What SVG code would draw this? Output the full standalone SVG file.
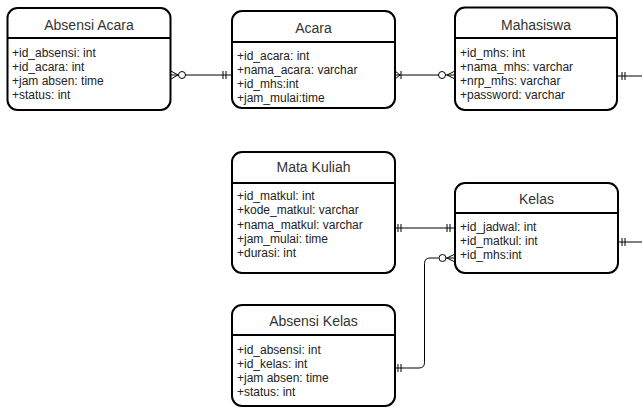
<svg xmlns="http://www.w3.org/2000/svg" width="642" height="409" viewBox="0 0 642 409">
<style>
.box{fill:#fff;stroke:#000;stroke-width:2}
.hdr{stroke:#000;stroke-width:2}
.title{font-family:"Liberation Sans",Arial,sans-serif;font-size:14px;fill:#333;text-anchor:middle}
.attr{font-family:"Liberation Sans",Arial,sans-serif;font-size:12px;fill:#222}
.ln{fill:none;stroke:#000;stroke-width:1}
.circ{fill:#fff;stroke:#000;stroke-width:1}
</style>
<rect width="642" height="409" fill="#fff"/>
<g id="connectors">
  <!-- Absensi Acara - Acara -->
  <path class="ln" d="M171 75 H232"/>
  <path class="ln" d="M171 71 L178 75 L171 79"/>
  <circle class="circ" cx="182" cy="75" r="3.5"/>
  <path class="ln" d="M223 71 V79 M226 71 V79"/>
  <!-- Acara - Mahasiswa -->
  <path class="ln" d="M395 75 H455"/>
  <path class="ln" d="M395 71 L400 75 L395 79 M401 71 V79"/>
  <circle class="circ" cx="442" cy="75" r="3.5"/>
  <path class="ln" d="M455 71 L447 75 L455 79"/>
  <!-- Mahasiswa right -->
  <path class="ln" d="M617 76 H642 M622 72 V80 M625 72 V80"/>
  <!-- Mata Kuliah - Kelas -->
  <path class="ln" d="M395 228 H455 M398 224 V232 M401 224 V232 M447 224 V232 M450 224 V232"/>
  <!-- Kelas right -->
  <path class="ln" d="M618 242 H642 M622 238 V246 M625 238 V246"/>
  <!-- Kelas - Absensi Kelas -->
  <path class="ln" d="M455 258 H446 M438.5 258 H430 Q424.5 258 424.5 263.5 V362.5 Q424.5 368 419 368 H395"/>
  <path class="ln" d="M455 254 L447 258 L455 262"/>
  <circle class="circ" cx="442.5" cy="258" r="3.5"/>
  <path class="ln" d="M398 364 V372 M401 364 V372"/>
</g>
<g id="absensi-acara">
  <rect class="box" x="7.5" y="8" width="163" height="102" rx="10"/>
  <line class="hdr" x1="7.5" y1="38" x2="170.5" y2="38"/>
  <text class="title" x="89" y="30">Absensi Acara</text>
  <text class="attr" x="12" y="57">+id_absensi: int</text>
  <text class="attr" x="12" y="71">+id_acara: int</text>
  <text class="attr" x="12" y="85">+jam absen: time</text>
  <text class="attr" x="12" y="99">+status: int</text>
</g>
<g id="acara">
  <rect class="box" x="232" y="11" width="163" height="97" rx="10"/>
  <line class="hdr" x1="232" y1="42" x2="395" y2="42"/>
  <text class="title" x="313.5" y="33">Acara</text>
  <text class="attr" x="237" y="59.5">+id_acara: int</text>
  <text class="attr" x="237" y="73.7">+nama_acara: varchar</text>
  <text class="attr" x="237" y="88">+id_mhs:int</text>
  <text class="attr" x="237" y="102.3">+jam_mulai:time</text>
</g>
<g id="mahasiswa">
  <rect class="box" x="455" y="7.5" width="162" height="102.5" rx="10"/>
  <line class="hdr" x1="455" y1="38" x2="617" y2="38"/>
  <text class="title" x="536" y="30">Mahasiswa</text>
  <text class="attr" x="460" y="57">+id_mhs: int</text>
  <text class="attr" x="460" y="71">+nama_mhs: varchar</text>
  <text class="attr" x="460" y="85">+nrp_mhs: varchar</text>
  <text class="attr" x="460" y="99">+password: varchar</text>
</g>
<g id="mata-kuliah">
  <rect class="box" x="232" y="152" width="163" height="121" rx="10"/>
  <line class="hdr" x1="232" y1="183" x2="395" y2="183"/>
  <text class="title" x="313.5" y="172">Mata Kuliah</text>
  <text class="attr" x="237" y="199.5">+id_matkul: int</text>
  <text class="attr" x="237" y="214">+kode_matkul: varchar</text>
  <text class="attr" x="237" y="228.5">+nama_matkul: varchar</text>
  <text class="attr" x="237" y="242.5">+jam_mulai: time</text>
  <text class="attr" x="237" y="256.5">+durasi: int</text>
</g>
<g id="kelas">
  <rect class="box" x="455" y="183" width="163" height="90" rx="10"/>
  <line class="hdr" x1="455" y1="213" x2="618" y2="213"/>
  <text class="title" x="536.5" y="203.5">Kelas</text>
  <text class="attr" x="460" y="230.5">+id_jadwal: int</text>
  <text class="attr" x="460" y="244.5">+id_matkul: int</text>
  <text class="attr" x="460" y="258.5">+id_mhs:int</text>
</g>
<g id="absensi-kelas">
  <rect class="box" x="232" y="305" width="163" height="101" rx="10"/>
  <line class="hdr" x1="232" y1="335" x2="395" y2="335"/>
  <text class="title" x="313.5" y="326">Absensi Kelas</text>
  <text class="attr" x="237" y="353.5">+id_absensi: int</text>
  <text class="attr" x="237" y="367.5">+id_kelas: int</text>
  <text class="attr" x="237" y="381.5">+jam absen: time</text>
  <text class="attr" x="237" y="395.5">+status: int</text>
</g>
</svg>
